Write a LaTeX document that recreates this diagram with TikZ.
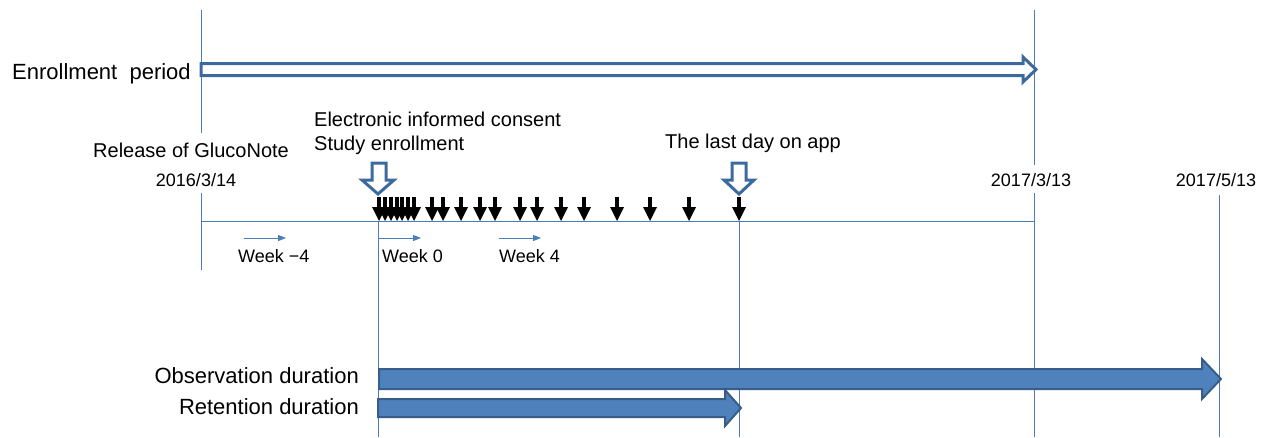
\documentclass[tikz,border=0pt]{standalone}
\usepackage{fontspec}
\setmainfont{Liberation Sans}
\usetikzlibrary{arrows.meta}
\definecolor{vline}{HTML}{4A7EBB}
\definecolor{fillblue}{HTML}{4F81BD}
\definecolor{edgeblue}{HTML}{385D8A}
\definecolor{hollowedge}{HTML}{3D6A9E}
\tikzset{
  gridline/.style={draw=vline, line width=1},
  label22/.style={inner sep=0, font=\fontsize{22}{26}\selectfont},
  label20/.style={inner sep=0, font=\fontsize{20}{24}\selectfont},
  label18/.style={inner sep=0, font=\fontsize{18}{21}\selectfont},
  solidarrow/.style={fill=fillblue, draw=edgeblue, line width=2, line join=miter},
  hollowarrow/.style={fill=white, draw=hollowedge, line width=3, line join=miter},
  weekarrow/.style={draw=vline, line width=1, -{Triangle[length=8,width=6]}},
  blackmark/.style={fill=black}
}
\begin{document}
\begin{tikzpicture}[x=1pt,y=-1pt]
\useasboundingbox (0,0) rectangle (1265,437);
% coordinates for grid lines
\coordinate (a1) at (201,10);  \coordinate (a2) at (201,133);
\coordinate (a3) at (201,193); \coordinate (a4) at (201,270);
\coordinate (b1) at (378,221); \coordinate (b2) at (378,437);
\coordinate (c1) at (739,221); \coordinate (c2) at (739,437);
\coordinate (d1) at (1034,10); \coordinate (d2) at (1034,165);
\coordinate (d3) at (1034,193); \coordinate (d4) at (1034,437);
\coordinate (e1) at (1219,195); \coordinate (e2) at (1219,437);
\coordinate (h1) at (201,221); \coordinate (h2) at (1034,221);
\draw[gridline] (a1) -- (a2);
\draw[gridline] (a3) -- (a4);
\draw[gridline] (b1) -- (b2);
\draw[gridline] (c1) -- (c2);
\draw[gridline] (d1) -- (d2);
\draw[gridline] (d3) -- (d4);
\draw[gridline] (e1) -- (e2);
\draw[gridline] (h1) -- (h2);

% enrollment period arrow
\draw[hollowarrow] (201,63.5) -- (1023,63.5) -- (1023,57) -- (1036,69.5) -- (1023,82) -- (1023,75.5) -- (201,75.5) -- cycle;
\node[label22, anchor=base west] (enroll) at (12,79) {Enrollment\ \ period};

% labels
\node[label20, anchor=base west] (consent) at (314,126) {Electronic informed consent};
\node[label20, anchor=base west] (study) at (314,150) {Study enrollment};
\node[label20, anchor=base west] (release) at (93,157) {Release of GlucoNote};
\node[label20, anchor=base west] (lastday) at (665,148) {The last day on app};
\node[label18, anchor=base] (d2016) at (196,186) {2016/3/14};
\node[label18, anchor=base] (d20173) at (1031,186) {2017/3/13};
\node[label18, anchor=base] (d20175) at (1216,186) {2017/5/13};

% black marks
\foreach \x in {379,385,391,397,402,408,414,432,443,461,480,495,520,537,561,584,617,650,689,739}{
  \fill[blackmark] (\x-2,197) rectangle (\x+2,209);
  \fill[blackmark] (\x-7,207) -- (\x+7,207) -- (\x,221) -- cycle;
}

% hollow down arrows
\draw[hollowarrow] (372,163) -- (386,163) -- (386,180) -- (394,180) -- (378,194) -- (362,180) -- (372,180) -- cycle;
\draw[hollowarrow] (732,163) -- (746,163) -- (746,180) -- (754,180) -- (739,194) -- (724,180) -- (732,180) -- cycle;

% week arrows and labels
\coordinate (w1a) at (244,238); \coordinate (w1b) at (286,238);
\coordinate (w2a) at (379,238); \coordinate (w2b) at (421,238);
\coordinate (w3a) at (499,238); \coordinate (w3b) at (541,238);
\draw[weekarrow] (w1a) -- (w1b);
\draw[weekarrow] (w2a) -- (w2b);
\draw[weekarrow] (w3a) -- (w3b);
\node[label18, anchor=base west] (wkm4) at (238,262) {Week −4};
\node[label18, anchor=base west] (wk0) at (382,262) {Week 0};
\node[label18, anchor=base west] (wk4) at (499,262) {Week 4};

% duration arrows
\draw[solidarrow] (379,369) -- (1202,369) -- (1202,359) -- (1221,379) -- (1202,399) -- (1202,389) -- (379,389) -- cycle;
\draw[solidarrow] (378,399) -- (725,399) -- (725,390) -- (741,408) -- (725,426) -- (725,417) -- (378,417) -- cycle;
\node[label22, anchor=base east] (obs) at (359,383) {Observation duration};
\node[label22, anchor=base east] (ret) at (359,414) {Retention duration};
\end{tikzpicture}
\end{document}
